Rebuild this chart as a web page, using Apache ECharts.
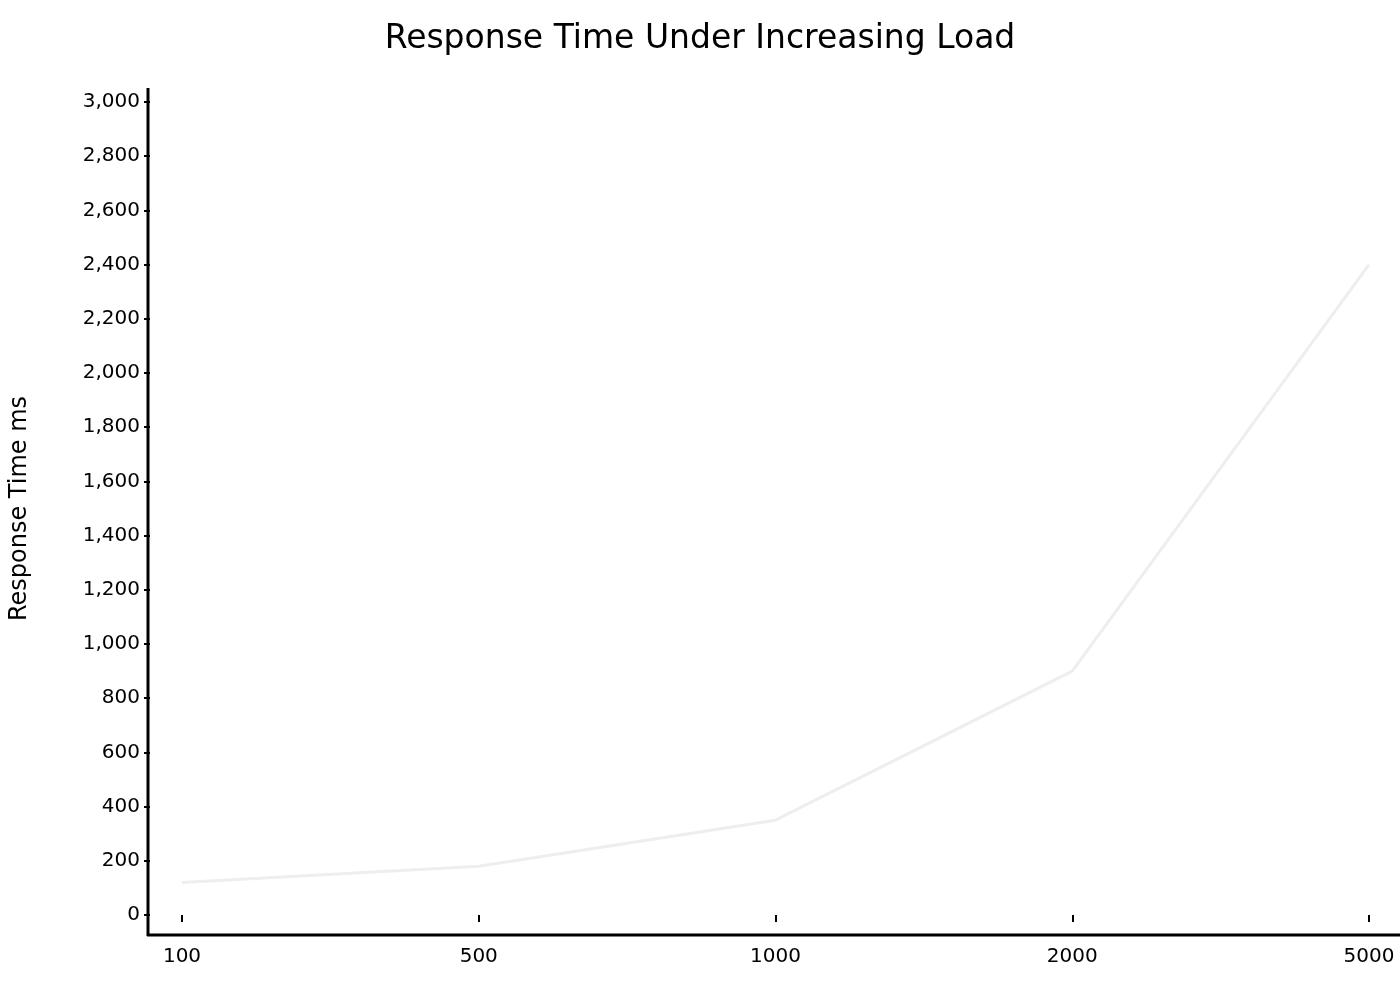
<!DOCTYPE html>
<html><head><meta charset="utf-8">
<script src="https://cdn.jsdelivr.net/npm/echarts@6/dist/echarts.min.js"></script>
<style>html,body{margin:0;padding:0;background:#fff}#c{width:1400px;height:1000px}</style>
</head><body><div id="c"></div>
<script>
const categories = ['100','500','1000','2000','5000'];
const responseTimes = [120, 180, 350, 900, 2400];
const FONT = 'DejaVu Sans';
const chart = echarts.init(document.getElementById('c'));
chart.setOption({
  animation:false,
  title:{text:'Response Time Under Increasing Load',left:'center',top:18,textStyle:{fontFamily:FONT,fontSize:33,fontWeight:'normal',color:'#000'}},
  grid:{left:180,right:31,top:102,bottom:85},
  xAxis:{type:'category',data:categories,boundaryGap:false,offset:20,
    axisLine:{show:false},axisTick:{show:true,alignWithLabel:true,length:7,lineStyle:{color:'#000',width:2}},
    axisLabel:{fontFamily:FONT,fontSize:20,color:'#000',margin:12}},
  yAxis:{type:'value',min:0,max:3000,interval:200,offset:32,
    name:'Response Time ms',nameLocation:'middle',nameGap:118,nameTextStyle:{fontFamily:FONT,fontSize:24,color:'#000'},
    axisLine:{show:false},splitLine:{show:false},axisTick:{show:true,length:6,lineStyle:{color:'#000',width:2}},
    axisLabel:{fontFamily:FONT,fontSize:20,color:'#000',margin:10}},
  series:[{type:'line',data:responseTimes,symbol:'none',lineStyle:{color:'#eeeeee',width:3}}],
  graphic:[
    {type:'line',shape:{x1:148,y1:88,x2:148,y2:936},style:{stroke:'#000',lineWidth:3}},
    {type:'line',shape:{x1:147,y1:935,x2:1400,y2:935},style:{stroke:'#000',lineWidth:3}}
  ]
});
</script></body></html>
